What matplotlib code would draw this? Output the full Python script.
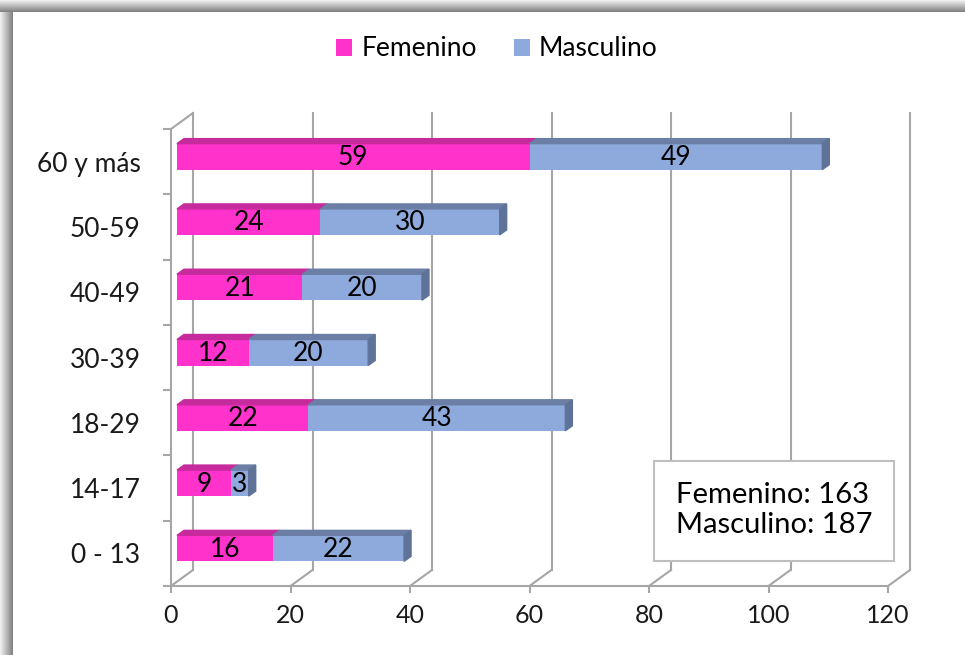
import matplotlib
matplotlib.use("Agg")
import matplotlib.pyplot as plt
from matplotlib.patches import Polygon, Patch, Rectangle
import numpy as np

plt.rcParams['font.family'] = ['Lato', 'DejaVu Sans']

# data
grupos = ["0 - 13", "14-17", "18-29", "30-39", "40-49", "50-59", "60 y más"]
femenino = [16, 9, 22, 12, 21, 24, 59]
masculino = [22, 3, 43, 20, 20, 30, 49]
total_fem = 163
total_masc = 187

col_fem = "#FF33CC"
col_fem_top = "#C62A9C"
col_masc = "#8EAADC"
col_masc_top = "#6A7EA6"
col_masc_side = "#5F7398"
grid_col = "#A6A6A6"

W, H = 965, 655
fig = plt.figure(figsize=(W / 100, H / 100), dpi=100)
fig.patch.set_facecolor("white")

# gray shaded edge at left and top
grad = np.linspace(0.95, 0.5, 40)
ax_l = fig.add_axes([0, 0, 13 / W, 1])
ax_l.imshow(grad[None, :], cmap="gray", vmin=0, vmax=1, aspect="auto")
ax_l.axis("off")
ax_t = fig.add_axes([0, 1 - 12 / H, 1, 12 / H])
ax_t.imshow(grad[:, None], cmap="gray", vmin=0, vmax=1, aspect="auto")
ax_t.axis("off")

# front plane of the plot area, in pixels
x0p, x1p, y_top, y_bot = 171, 888, 129, 586
ax = fig.add_axes([x0p / W, (H - y_bot) / H, (x1p - x0p) / W, (y_bot - y_top) / H])
ax.set_xlim(0, 120)
ax.set_ylim(-0.5, 6.5)
ax.patch.set_alpha(0)

ppx = (x1p - x0p) / 120.0   # pixels per x unit
ppy = (y_bot - y_top) / 7.0  # pixels per category


def dx(p):
    return p / ppx


def dy(p):
    return p / ppy


# back plane offset
bx, by = dx(22), dy(16)
xt = np.arange(0, 121, 20)
for x in xt:
    ax.plot([x + bx, x + bx], [-0.5 + by, 6.5 + by], color=grid_col, lw=1.5,
            clip_on=False, zorder=1)
    ax.plot([x, x + bx], [-0.5, -0.5 + by], color=grid_col, lw=1.5,
            clip_on=False, zorder=1)
ax.plot([0, bx], [6.5, 6.5 + by], color=grid_col, lw=1.5, clip_on=False, zorder=1)

# bars
shift_x, shift_y = dx(6), dy(5)
h = dy(26)
tx, ty = dx(7), dy(5)
y = np.arange(len(grupos)) + shift_y
fem = np.array(femenino)
mas = np.array(masculino)

ax.barh(y, fem, height=h, left=shift_x, color=col_fem, zorder=3, clip_on=False)
ax.barh(y, mas, height=h, left=shift_x + fem, color=col_masc, zorder=3, clip_on=False)

for yi, f, m in zip(y, fem, mas):
    top = yi + h / 2
    bot = yi - h / 2
    a, b, c = shift_x, shift_x + f, shift_x + f + m
    ax.add_patch(Polygon([[a, top], [b, top], [b + tx, top + ty], [a + tx, top + ty]],
                         closed=True, color=col_fem_top, zorder=3, clip_on=False))
    ax.add_patch(Polygon([[b, top], [c, top], [c + tx, top + ty], [b + tx, top + ty]],
                         closed=True, color=col_masc_top, zorder=3, clip_on=False))
    ax.add_patch(Polygon([[c, bot], [c, top], [c + tx, top + ty], [c + tx, bot + ty]],
                         closed=True, color=col_masc_side, zorder=3, clip_on=False))
    ax.text(a + f / 2, yi - dy(1), str(f), ha="center", va="center", fontsize=19,
            color="black", zorder=4)
    ax.text(b + m / 2, yi - dy(1), str(m), ha="center", va="center", fontsize=19,
            color="black", zorder=4)

# axes styling
for s in ["top", "right"]:
    ax.spines[s].set_visible(False)
for s in ["left", "bottom"]:
    ax.spines[s].set_color(grid_col)
    ax.spines[s].set_linewidth(1.5)
    ax.spines[s].set_zorder(1)

ax.set_xticks(xt)
ax.tick_params(axis="x", length=5, width=1.5, color=grid_col, pad=8,
               labelsize=18, labelcolor="#1a1a1a")
ax.set_yticks(np.arange(len(grupos)))
ax.set_yticklabels(grupos)
ax.tick_params(axis="y", which="major", length=0, pad=22, labelsize=19,
               labelcolor="#1a1a1a")
ax.set_yticks(np.arange(-0.5, 7, 1), minor=True)
ax.tick_params(axis="y", which="minor", length=6, width=1.5, color=grid_col)

# legend
handles = [Patch(facecolor=col_fem, label="Femenino"),
           Patch(facecolor=col_masc, label="Masculino")]
fig.legend(handles=handles, loc="center", bbox_to_anchor=(0.515, 1 - 49 / H), ncol=2,
           frameon=False, fontsize=19, handlelength=0.6, handleheight=0.6,
           handletextpad=0.35, columnspacing=1.4)

# totals box
fig.patches.append(Rectangle((654 / W, 1 - 561 / H), 240 / W, 100 / H,
                             transform=fig.transFigure, facecolor="white",
                             edgecolor="#BFBFBF", lw=1.5, zorder=5))
fig.text(676 / W, 1 - 510 / H, f"Femenino: {total_fem}\nMasculino: {total_masc}",
         ha="left", va="center", fontsize=21, color="black", linespacing=1.2,
         zorder=6)

fig.savefig("out.png", dpi=100)
